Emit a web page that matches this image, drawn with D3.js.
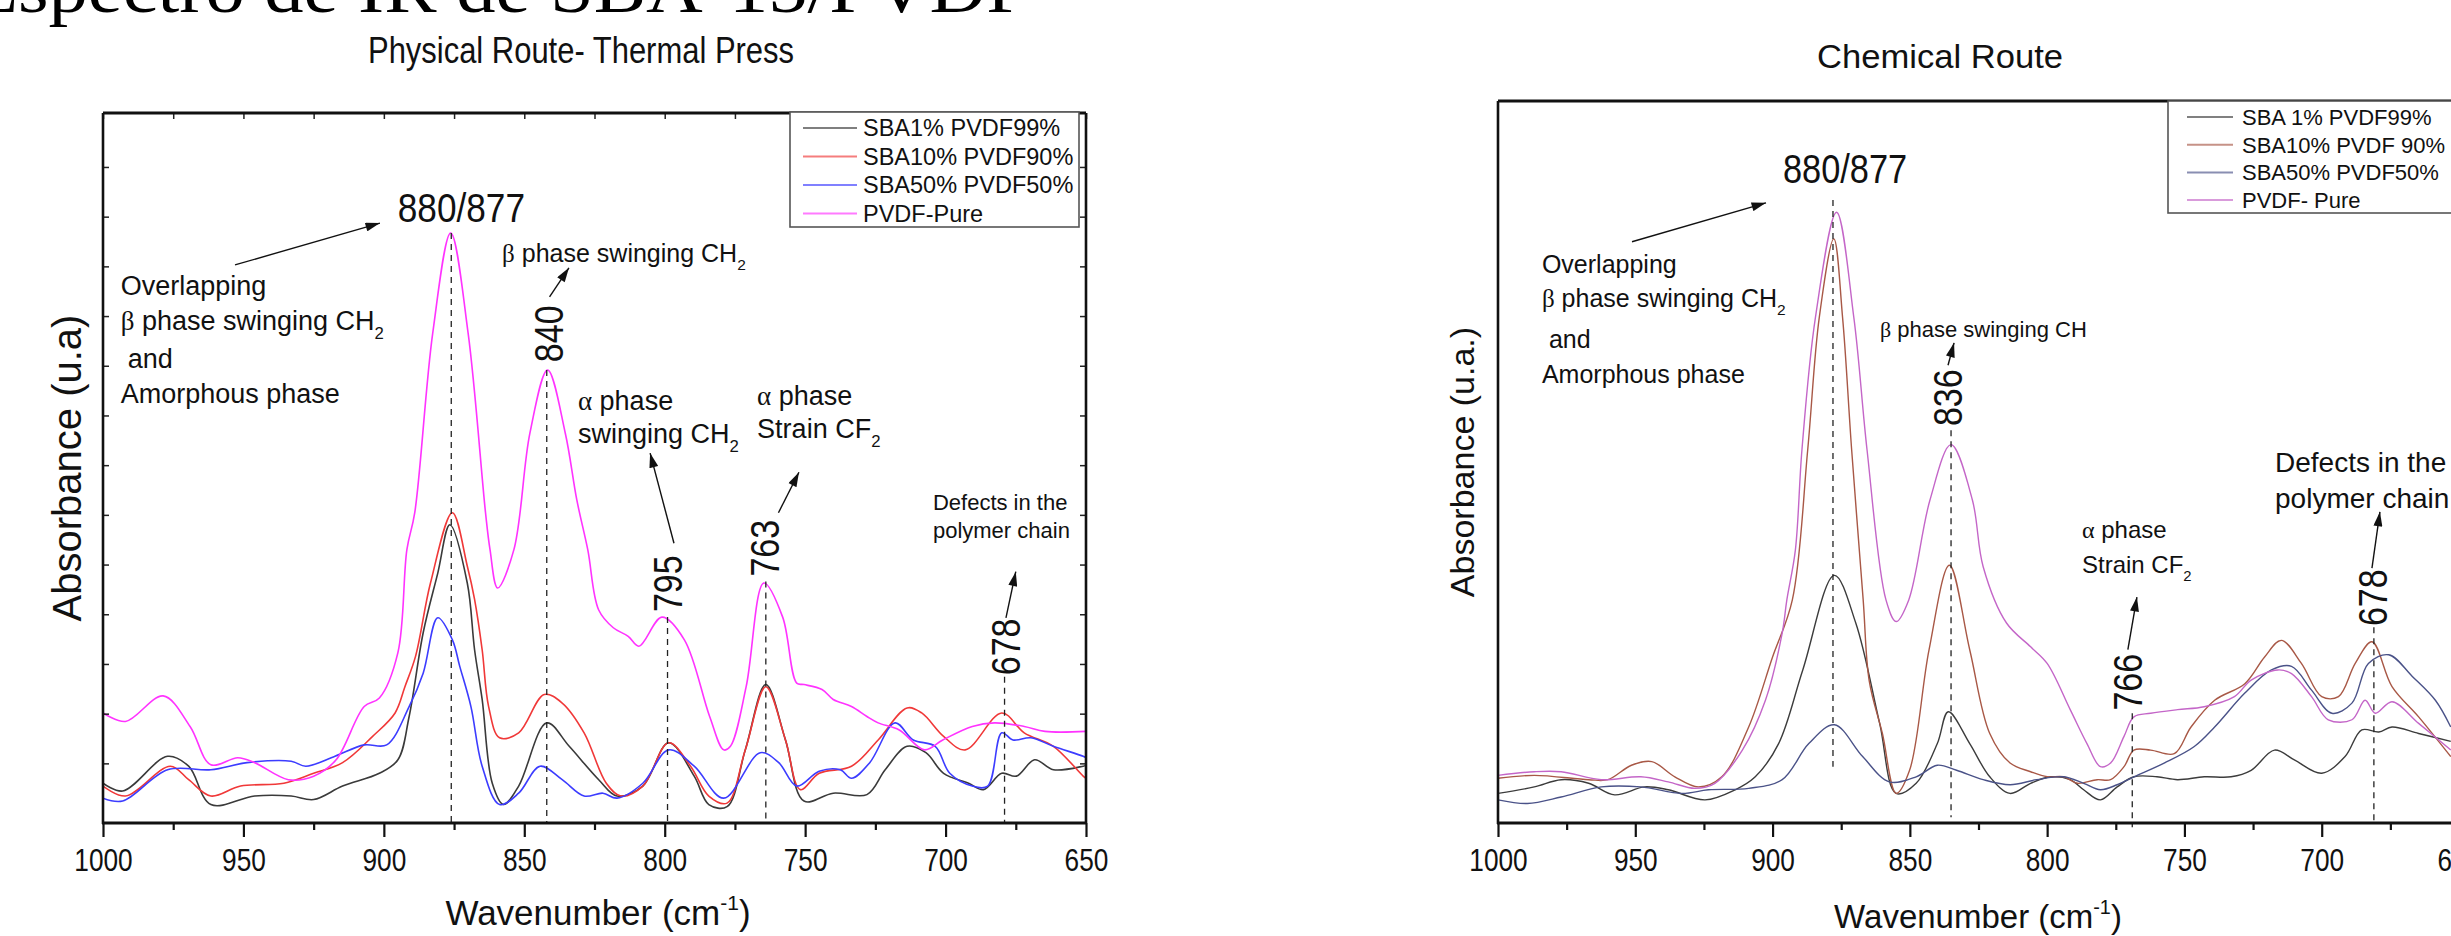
<!DOCTYPE html>
<html>
<head>
<meta charset="utf-8">
<script src="https://cdn.jsdelivr.net/npm/d3@7"></script>
<style>
  body { margin: 0; background: #fff; }
  svg { display: block; font-family: "Liberation Sans", Arial, sans-serif; }
</style>
</head>
<body>
<svg id="chart" width="2451" height="936"></svg>
<script>
// ---- data: [wavenumber (cm-1), absorbance (a.u., 0-100)] ----
var seriesNames = ["SBA1% PVDF99%", "SBA10% PVDF90%", "SBA50% PVDF50%", "PVDF-Pure"];
var chemNames = ["SBA 1% PVDF99%", "SBA10% PVDF 90%", "SBA50% PVDF50%", "PVDF- Pure"];
var majorTicks = [1000, 950, 900, 850, 800, 750, 700, 650];
var minorTicks = [975, 925, 875, 825, 775, 725, 675];

// physical route (thermal press)
var physSBA1 = [[1000,5.6],[993,4.5],[977,9.4],[969.5,8.0],[961.6,2.6],[946,3.8],[933,3.8],[925,3.3],[914.7,5.2],[901.6,7.0],[895,8.9],[891,15],[886,26.8],[880.8,35.2],[876.5,42.0],[870.3,33.8],[867.7,24.4],[865,17.4],[861.4,5.6],[857.4,2.6],[852,5.2],[842,14.1],[834,10.8],[823.5,6.1],[817,3.8],[807.8,5.2],[798.6,11.3],[789.5,6.6],[784.3,2.6],[777.8,2.3],[771.3,10.3],[764,19.5],[757,11.7],[750.4,3.1],[740,4.2],[728,4.0],[721.5,7.5],[713.7,10.8],[707,9.9],[700.7,7.0],[691.8,5.6],[686.5,4.7],[680,7.0],[674.8,6.6],[668.3,8.9],[661.6,7.5],[651,8.0],[650,8.1]];
var physSBA10 = [[1000,5.2],[992,3.8],[976,8.0],[969.5,6.1],[961.6,3.8],[951,5.2],[935.6,5.6],[925,7.0],[914.7,8.5],[904,12.2],[896,15.5],[892.5,19.2],[888.7,23.5],[883.4,33.8],[875.6,43.7],[870.3,36.2],[867.7,31.5],[865,24.4],[862.7,16.4],[858.8,12.0],[852,12.7],[842.9,18.1],[836.5,16.9],[828.7,12.7],[820.8,5.6],[815.6,3.8],[807.8,5.2],[798.6,11.3],[790.8,8.0],[784.3,3.8],[777.8,2.8],[771.3,10.3],[764,19.2],[757,11.7],[751.7,4.7],[745,7.0],[733.5,8.0],[724,11.7],[713.7,16.2],[708.5,15.5],[700.7,12.2],[693,10.3],[680,15.5],[672,12.7],[661.6,10.8],[651,6.6],[650,6.3]];
var physSBA50 = [[1000,3.5],[993,3.1],[977,7.5],[961.6,7.5],[948.7,8.5],[933,8.7],[927.8,8.0],[917.4,9.4],[907,11.0],[899,11.0],[891,16.4],[886,21.1],[880.8,28.9],[875.6,25.8],[873,22.1],[869,16.4],[865,8.0],[858.8,2.6],[852,4.2],[844.4,8.0],[836.5,6.1],[828.7,3.8],[822,4.2],[817,3.5],[807.8,5.6],[798.6,10.3],[789.5,8.0],[779,3.5],[766,9.9],[759.4,8.5],[753,5.2],[745,7.3],[737.5,7.5],[733.5,6.3],[727,8.5],[718,14.1],[711.5,11.7],[703.7,10.8],[698.5,7.0],[690.5,5.2],[685,5.2],[680,12.7],[676,11.7],[669.6,12.0],[661.6,10.8],[651,9.4],[650,9.2]];
var physPure = [[1000,15.5],[992,14.3],[978.6,17.9],[969,13.6],[961.6,8.2],[952,9.2],[946,8.5],[934,6.1],[925,6.6],[917,8.9],[907,16.4],[901.6,17.6],[895,24],[891.8,38.5],[889,43.7],[882.6,69],[876.2,83.1],[870,69],[863.8,43.7],[862.2,38.5],[859.5,33.1],[853.7,38.5],[848,54.9],[841.7,63.8],[835.4,54.9],[831.3,45.5],[827.4,38.5],[823.5,30],[818.3,27.5],[813,26.3],[809.2,24.9],[801,29],[793,25.8],[784,15],[779,10.3],[776.6,10.8],[771,19.2],[764.7,33.8],[758,29],[753,19.7],[750.4,19.5],[744,18.8],[740,17.4],[733.5,16.4],[728,15],[724,14.1],[716.5,13.1],[707.5,10.3],[701,11.7],[690.5,13.6],[682.6,14.1],[672,13.6],[664.6,12.9],[650,12.9]];

// chemical route
var chemSBA1 = [[1000,4.1],[986.8,5.0],[977,6.0],[967,5.5],[957.5,3.9],[946.6,5.0],[938,4.6],[924.6,3.2],[913.6,4.6],[906.3,6.4],[897.8,11.0],[889,21.2],[877.5,34.3],[869.7,27.7],[861,13.8],[855,4.1],[847.7,5.5],[840,11.0],[836,15.4],[828.2,11.0],[820.9,6.4],[813.5,4.1],[806,5.5],[798.8,6.4],[791.6,6.0],[786.7,4.6],[780.6,3.2],[774.5,5.0],[768.4,6.4],[760,6.4],[752.5,6.0],[742.8,6.4],[733,6.4],[725.7,7.3],[717.2,10.1],[709.8,8.7],[700,6.9],[691.5,9.2],[685.4,12.9],[679.2,12.6],[674.4,13.3],[664.7,12.4],[653,11.3]];
var chemSBA10 = [[1000,6.2],[986.8,6.6],[967,6.0],[960,6.0],[951.4,8.0],[944,8.5],[935.6,6.4],[927,5.0],[918.5,6.4],[908.7,13.3],[900,23],[892.8,30.9],[887.2,51.7],[883,70],[877.7,80.9],[874.5,70],[871.2,51.7],[867,30.9],[864.8,19.7],[860,12.4],[855,4.1],[850.1,7.3],[843,24.0],[835.6,35.7],[828.2,24.0],[820.9,12.4],[813.5,8.3],[806,7.1],[800,6.4],[794,6.4],[789,5.5],[781.8,6.0],[776.9,6.0],[772,7.8],[768.4,10.1],[762.3,10.1],[753.7,9.6],[747.6,13.3],[739,17.0],[728,19.3],[720.8,23.0],[714.7,25.3],[707.4,22.1],[700,17.5],[693.9,17.5],[687.8,22.1],[681.7,25.1],[674.4,18.9],[664.7,14.7],[653,9.2]];
var chemSBA50 = [[1000,3.2],[989.3,2.7],[977,3.6],[962.4,5.0],[948,5.0],[933,4.1],[923.4,4.6],[908.7,4.8],[896.5,6.0],[886.8,11.0],[877.5,13.6],[867.2,9.2],[857.5,5.7],[847.7,6.4],[840,8.0],[833,7.3],[823.3,6.0],[813.5,5.3],[803.8,6.0],[794,6.4],[786.7,5.5],[780.6,4.6],[774.5,5.3],[768.4,6.4],[757.4,8.3],[746.4,10.6],[739,13.3],[728,18.0],[718.3,21.2],[711,21.7],[703.7,18.4],[696.3,15.2],[689,16.6],[683,22.1],[675.6,23.3],[667,20.3],[658.6,17.0],[653,13.3]];
var chemPure = [[1000,6.6],[986.8,7.1],[977,7.1],[962.4,6.0],[948,6.4],[938,5.7],[928.3,4.8],[921,5.5],[911,10.1],[902.6,17.0],[896.5,26.3],[894.8,30.9],[891.7,37.8],[889.3,51.7],[884.4,70],[876.7,84.6],[870.4,70],[865.6,51.7],[858.7,30.9],[855,27.9],[850.4,30.9],[842.7,44.7],[835,52.4],[827.2,44.7],[823.3,35.5],[814.8,27.7],[806,24.4],[800,22.1],[791.6,15.7],[785.5,11.0],[780.6,7.8],[776.9,8.3],[772,12.0],[768.4,14.7],[762.3,15.2],[752.5,15.7],[742.8,16.1],[731.8,17.5],[725.7,19.8],[716,21.2],[711,20.7],[703.7,17.5],[697.6,14.3],[689,14.3],[684.2,17.0],[680.5,15.2],[674.4,16.8],[664.7,13.8],[653,10.1]];

// peak guides [wavenumber, from, to]
var physGuides = [[876,83.1,0],[842,63.8,0],[799,29,0],[764,34,0],[679,20.6,0]];
var chemGuides = [[878,86.3,7.8],[835,54.4,0.8],[769,15.2,-0.6],[681,27.1,0]];

var svg = d3.select("#chart");
var defs = svg.append("defs");
defs.append("marker")
	.attr("id", "arrowHead")
	.attr("viewBox", "0 0 16 10")
	.attr("refX", 16).attr("refY", 5)
	.attr("markerWidth", 16).attr("markerHeight", 9)
	.attr("markerUnits", "userSpaceOnUse")
	.attr("orient", "auto")
	.append("path").attr("d", "M0,0L16,5L0,10Z").attr("fill", "#111");

// cut-off caption line at the very top of the page
svg.append("text")
	.attr("x", -30).attr("y", 12)
	.attr("font-family", "Liberation Serif, serif")
	.attr("font-size", 70)
	.attr("textLength", 1060).attr("lengthAdjust", "spacingAndGlyphs")
	.text("Espectro de IR de SBA-15/PVDF");

// text with greek letters, sub- and superscripts
var rich = function(g, x, y, size, segs, anchor) {
	var t = g.append("text").attr("x", x).attr("y", y)
		.attr("font-size", size).attr("fill", "#111")
		.attr("text-anchor", anchor || "start");
	segs.forEach(function(s) {
		if (typeof s === "string") {
			t.append("tspan").text(s);
		} else if (s.greek) {
			t.append("tspan").attr("font-family", "Liberation Serif, serif").text(s.greek);
		} else if (s.sub) {
			t.append("tspan").attr("font-size", size * 0.62).attr("dy", size * 0.32).text(s.sub);
		} else if (s.sup) {
			t.append("tspan").attr("font-size", size * 0.6).attr("dy", -size * 0.42).text(s.sup);
			t.append("tspan").attr("dy", size * 0.42).text(s.after);
		}
	});
	return t;
};

var vnum = function(g, cx, cy, txt) {
	g.append("text")
		.attr("transform", "translate(" + cx + "," + cy + ") rotate(-90) scale(0.85,1)")
		.attr("text-anchor", "middle")
		.attr("y", 40 * 0.36)
		.attr("font-size", 40).attr("fill", "#111")
		.text(txt);
};

var drawPanel = function(cfg) {
	var x = d3.scaleLinear().domain([1000, 650]).range([cfg.left, cfg.right]),
		y = d3.scaleLinear().domain([0, 100]).range([cfg.bottom, cfg.top]),
		g = svg.append("g");

	defs.append("clipPath").attr("id", cfg.id + "Clip")
		.append("rect")
		.attr("x", cfg.left).attr("y", cfg.top)
		.attr("width", cfg.right - cfg.left).attr("height", cfg.bottom - cfg.top);

	var lineFunc = d3.line()
		.x(function(d) { return x(d[0]); })
		.y(function(d) { return y(d[1]); })
		.curve(d3.curveCatmullRom.alpha(0.5));

	var curves = g.append("g").attr("clip-path", "url(#" + cfg.id + "Clip)");
	cfg.series.forEach(function(s, i) {
		curves.append("path")
			.datum(s)
			.attr("fill", "none")
			.attr("stroke", cfg.colors[i])
			.attr("stroke-width", cfg.lineWidth)
			.attr("stroke-linejoin", "round")
			.attr("d", lineFunc);
	});

	// dashed peak guides
	g.selectAll(".guide").data(cfg.guides).enter().append("line")
		.attr("class", "guide")
		.attr("x1", function(d) { return x(d[0]); })
		.attr("x2", function(d) { return x(d[0]); })
		.attr("y1", function(d) { return y(d[1]); })
		.attr("y2", function(d) { return y(d[2]); })
		.attr("stroke", "#222").attr("stroke-width", 1.3)
		.attr("stroke-dasharray", "6,5");

	// bottom axis, major + minor
	var major = g.append("g")
		.attr("transform", "translate(0," + cfg.bottom + ")")
		.call(d3.axisBottom(x).tickValues(majorTicks).tickSize(14).tickSizeOuter(0)
			.tickPadding(11).tickFormat(d3.format("d")));
	major.select(".domain").remove();
	major.selectAll(".tick line").attr("stroke", "#111").attr("stroke-width", 2.2);
	major.selectAll(".tick text")
		.attr("font-family", "Liberation Sans, Arial, sans-serif")
		.attr("font-size", 32).attr("fill", "#111")
		.attr("transform", "scale(0.82,1)");

	var minor = g.append("g")
		.attr("transform", "translate(0," + cfg.bottom + ")")
		.call(d3.axisBottom(x).tickValues(minorTicks).tickSize(7).tickSizeOuter(0).tickFormat(""));
	minor.select(".domain").remove();
	minor.selectAll(".tick line").attr("stroke", "#111").attr("stroke-width", 2.2);

	if (cfg.boxTicks) {
		var allTicks = majorTicks.concat(minorTicks);
		var top = g.append("g").attr("transform", "translate(0," + cfg.top + ")")
			.call(d3.axisTop(x).tickValues(allTicks).tickSize(-6).tickSizeOuter(0).tickFormat(""));
		var yTicks = [92.4, 85.4, 78.4, 71.4, 64.4, 57.4, 50.4, 43.4, 36.4, 29.4, 22.4, 15.4, 8.4];
		var lft = g.append("g").attr("transform", "translate(" + cfg.left + ",0)")
			.call(d3.axisLeft(y).tickValues(yTicks).tickSize(-6).tickSizeOuter(0).tickFormat(""));
		var rgt = g.append("g").attr("transform", "translate(" + cfg.right + ",0)")
			.call(d3.axisRight(y).tickValues(yTicks).tickSize(-6).tickSizeOuter(0).tickFormat(""));
		[top, lft, rgt].forEach(function(a) {
			a.select(".domain").remove();
			a.selectAll(".tick line").attr("stroke", "#222").attr("stroke-width", 1.5);
		});
	}

	// frame
	g.append("line").attr("x1", cfg.left).attr("x2", cfg.left)
		.attr("y1", cfg.top).attr("y2", cfg.bottom + 1)
		.attr("stroke", "#111").attr("stroke-width", 2.6);
	g.append("line").attr("x1", cfg.left).attr("x2", cfg.right)
		.attr("y1", cfg.top).attr("y2", cfg.top)
		.attr("stroke", "#111").attr("stroke-width", 2.8);
	g.append("line").attr("x1", cfg.left - 1).attr("x2", cfg.right + 1)
		.attr("y1", cfg.bottom).attr("y2", cfg.bottom)
		.attr("stroke", "#111").attr("stroke-width", 3.2);
	if (cfg.boxTicks) {
		g.append("line").attr("x1", cfg.right).attr("x2", cfg.right)
			.attr("y1", cfg.top).attr("y2", cfg.bottom)
			.attr("stroke", "#111").attr("stroke-width", 2.6);
	}

	// titles
	g.append("text")
		.attr("x", cfg.titleX).attr("y", cfg.titleY)
		.attr("text-anchor", "middle")
		.attr("font-size", cfg.titleSize).attr("fill", "#111")
		.attr("textLength", cfg.titleLen).attr("lengthAdjust", "spacingAndGlyphs")
		.text(cfg.title);
	g.append("text")
		.attr("transform", "translate(" + cfg.yLabelX + "," + (cfg.top + cfg.bottom) / 2 + ") rotate(-90)")
		.attr("text-anchor", "middle")
		.attr("font-size", cfg.yLabelSize).attr("fill", "#111")
		.text(cfg.yLabel);
	rich(g, cfg.xLabelX, cfg.xLabelY, cfg.xLabelSize,
		["Wavenumber (cm", {sup: "-1", after: ")"}], "middle");

	// legend
	var lg = g.append("g");
	lg.append("rect")
		.attr("x", cfg.legend.x).attr("y", cfg.legend.y)
		.attr("width", cfg.legend.w).attr("height", cfg.legend.h)
		.attr("fill", "#fff").attr("stroke", "#555").attr("stroke-width", 1.6);
	cfg.names.forEach(function(n, i) {
		var ly = cfg.legend.y + cfg.legend.first + i * cfg.legend.step;
		lg.append("line")
			.attr("x1", cfg.legend.x + cfg.legend.lx0).attr("x2", cfg.legend.x + cfg.legend.lx1)
			.attr("y1", ly).attr("y2", ly)
			.attr("stroke", cfg.colors[i]).attr("stroke-opacity", 0.65).attr("stroke-width", 2);
		lg.append("text")
			.attr("x", cfg.legend.x + cfg.legend.tx).attr("y", ly + cfg.legend.size * 0.36)
			.attr("font-size", cfg.legend.size).attr("fill", "#111")
			.text(n);
	});

	return {x: x, y: y, g: g};
};

var arrow = function(p, a, b) {
	p.g.append("line")
		.attr("x1", p.x(a[0])).attr("y1", p.y(a[1]))
		.attr("x2", p.x(b[0])).attr("y2", p.y(b[1]))
		.attr("stroke", "#111").attr("stroke-width", 1.4)
		.attr("marker-end", "url(#arrowHead)");
};

// ---------------- left: physical route ----------------
var phys = drawPanel({
	id: "phys", left: 103, right: 1086, top: 113, bottom: 823,
	series: [physSBA1, physSBA10, physSBA50, physPure],
	colors: ["#3a3a3a", "#f03838", "#3c3cff", "#ff33ff"],
	names: seriesNames, lineWidth: 1.6, guides: physGuides, boxTicks: true,
	title: "Physical Route- Thermal Press", titleX: 581, titleY: 63, titleSize: 37, titleLen: 426,
	yLabel: "Absorbance (u.a)", yLabelX: 81, yLabelSize: 40,
	xLabelX: 598, xLabelY: 925, xLabelSize: 35,
	legend: {x: 790, y: 112, w: 289, h: 115, first: 16, step: 28.5, lx0: 13, lx1: 67, tx: 73, size: 23.5}
});

rich(phys.g, phys.x(872.4), phys.y(84.6), 40, ["880/877"], "middle")
	.attr("transform", "translate(" + phys.x(872.4) + ",0) scale(0.88,1) translate(" + (-phys.x(872.4)) + ",0)");
arrow(phys, [953, 78.6], [901.4, 84.5]);
rich(phys.g, phys.x(993.7), phys.y(74.4), 27, ["Overlapping"]);
rich(phys.g, phys.x(993.7), phys.y(69.4), 27, [{greek: "\u03b2"}, " phase swinging CH", {sub: "2"}]);
rich(phys.g, phys.x(993.7) + 7, phys.y(64.1), 27, ["and"]);
rich(phys.g, phys.x(993.7), phys.y(59.2), 27, ["Amorphous phase"]);

rich(phys.g, phys.x(857.9), phys.y(79.0), 25, [{greek: "\u03b2"}, " phase swinging CH", {sub: "2"}]);
arrow(phys, [841, 74.1], [834.1, 78.2]);
vnum(phys.g, phys.x(841.4), phys.y(68.9), "840");

rich(phys.g, phys.x(830.9), phys.y(58.2), 27, [{greek: "\u03b1"}, " phase"]);
rich(phys.g, phys.x(830.9), phys.y(53.5), 27, ["swinging CH", {sub: "2"}]);
arrow(phys, [796.7, 39.4], [805.2, 52.1]);
vnum(phys.g, phys.x(798.8), phys.y(33.7), "795");

rich(phys.g, phys.x(767.1), phys.y(58.9), 27, [{greek: "\u03b1"}, " phase"]);
rich(phys.g, phys.x(767.1), phys.y(54.2), 27, ["Strain CF", {sub: "2"}]);
arrow(phys, [759.5, 43.7], [752.2, 49.4]);
vnum(phys.g, phys.x(764.3), phys.y(38.7), "763");

rich(phys.g, phys.x(704.5), phys.y(44.1), 22, ["Defects in the"]);
rich(phys.g, phys.x(704.5), phys.y(40.1), 22, ["polymer chain"]);
arrow(phys, [678.5, 28.9], [675, 35.4]);
vnum(phys.g, phys.x(678.8), phys.y(24.8), "678");

// ---------------- right: chemical route ----------------
var chem = drawPanel({
	id: "chem", left: 1498, right: 2459, top: 101, bottom: 823,
	series: [chemSBA1, chemSBA10, chemSBA50, chemPure],
	colors: ["#3c3c3c", "#a85846", "#4a5288", "#c466c8"],
	names: chemNames, lineWidth: 1.4, guides: chemGuides, boxTicks: false,
	title: "Chemical Route", titleX: 1940, titleY: 68, titleSize: 33, titleLen: 246,
	yLabel: "Absorbance (u.a.)", yLabelX: 1474, yLabelSize: 34,
	xLabelX: 1978, xLabelY: 928, xLabelSize: 33,
	legend: {x: 2168, y: 101, w: 310, h: 112, first: 16, step: 27.7, lx0: 19, lx1: 65, tx: 74, size: 22}
});

rich(chem.g, chem.x(873.6), chem.y(88.6), 40, ["880/877"], "middle")
	.attr("transform", "translate(" + chem.x(873.6) + ",0) scale(0.86,1) translate(" + (-chem.x(873.6)) + ",0)");
arrow(chem, [951.2, 80.5], [902.4, 85.9]);
rich(chem.g, chem.x(984), chem.y(76.2), 25, ["Overlapping"]);
rich(chem.g, chem.x(984), chem.y(71.5), 25, [{greek: "\u03b2"}, " phase swinging CH", {sub: "2"}]);
rich(chem.g, chem.x(984) + 7, chem.y(65.8), 25, ["and"]);
rich(chem.g, chem.x(984), chem.y(60.9), 25, ["Amorphous phase"]);

rich(chem.g, chem.x(860.9), chem.y(67.3), 22, [{greek: "\u03b2"}, " phase swinging CH"]);
arrow(chem, [836.1, 63.4], [833.9, 66.5]);
vnum(chem.g, chem.x(836.1), chem.y(58.9), "836");

rich(chem.g, chem.x(787.3), chem.y(39.5), 24, [{greek: "\u03b1"}, " phase"]);
rich(chem.g, chem.x(787.3), chem.y(34.6), 24, ["Strain CF", {sub: "2"}]);
arrow(chem, [770.6, 24], [767.3, 31.3]);
vnum(chem.g, chem.x(770.6), chem.y(19.5), "766");

rich(chem.g, chem.x(717), chem.y(48.6), 28, ["Defects in the"]);
rich(chem.g, chem.x(717), chem.y(43.6), 28, ["polymer chain"]);
arrow(chem, [681.7, 35.3], [678.8, 43.1]);
vnum(chem.g, chem.x(681.4), chem.y(31.2), "678");
</script>
</body>
</html>
